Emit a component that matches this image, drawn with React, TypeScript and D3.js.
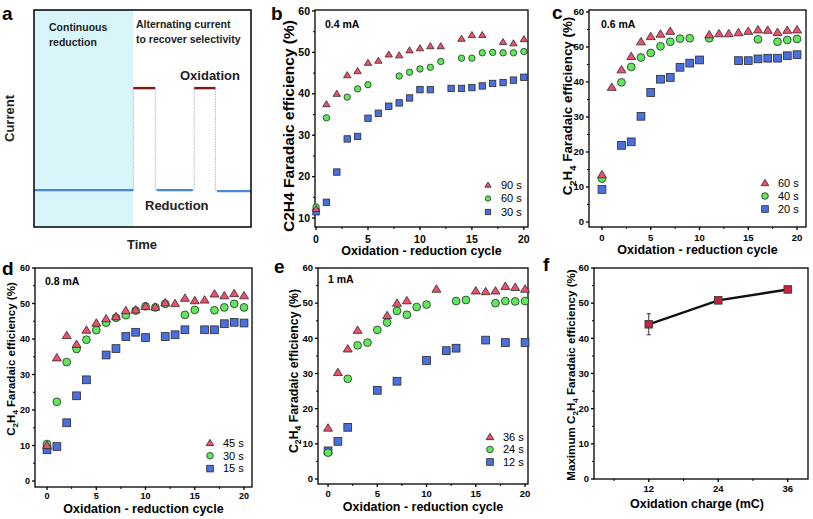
import React from "react";
import * as d3 from "d3";

// ---------- DATA ----------
// Panel b (0.4 mA)
const bCyc90 = [0, 1, 2, 3, 4, 5, 6, 7, 8, 9, 10, 11, 12, 14, 15, 16, 18, 19, 20];
const bVal90 = [12.2, 37.5, 40, 44.5, 45.5, 47.5, 48, 49.5, 49.3, 50.5, 51, 51.5, 51.5, 53.3, 54.2, 54.2, 52.5, 52.2, 53.2];
const bCyc60 = [0, 1, 3, 4, 5, 8, 9, 10, 11, 12, 14, 15, 16, 17, 18, 19, 20];
const bVal60 = [12.7, 34.2, 39.2, 41.2, 42.2, 44.3, 45.2, 46, 46.4, 47.8, 48.6, 48.6, 49.9, 50, 49.9, 49.9, 50.2];
const bCyc30 = [0, 1, 2, 3, 4, 5, 6, 7, 8, 9, 10, 11, 13, 14, 15, 16, 17, 18, 19, 20];
const bVal30 = [11.5, 13.8, 21.1, 29.1, 29.7, 34.1, 35.3, 37, 37.8, 39, 41, 41, 41.3, 41.3, 41.5, 41.9, 42.5, 42.7, 43.3, 44];

// Panel c (0.6 mA)
const cCyc60 = [0, 1, 2, 3, 4, 5, 6, 7, 11, 12, 13, 14, 15, 16, 17, 18, 19, 20];
const cVal60 = [13.5, 38.5, 43.5, 47.3, 51.5, 53, 53.7, 54.5, 53.5, 53.8, 53.8, 54.1, 54.5, 54.9, 54.8, 54.2, 54.8, 54.9];
const cCyc40 = [0, 2, 3, 4, 5, 6, 7, 8, 9, 11, 16, 18, 19, 20];
const cVal40 = [12.4, 39.9, 44.3, 47, 48.3, 50.2, 51.5, 52.4, 52.5, 52.5, 52.2, 51.5, 52, 52.3];
const cCyc20 = [0, 2, 3, 4, 5, 6, 7, 8, 9, 10, 14, 15, 16, 17, 18, 19, 20];
const cVal20 = [9.3, 21.9, 22.9, 30.2, 37, 40.8, 41.3, 44.2, 45.4, 46.3, 46.1, 46.1, 46.6, 46.8, 46.8, 47.5, 47.8];

// Panel d (0.8 mA)
const dCyc45 = [0, 1, 2, 3, 4, 5, 6, 7, 8, 9, 10, 11, 12, 13, 14, 15, 16, 17, 18, 19, 20];
const dVal45 = [10, 34.7, 41, 38.5, 42.5, 44.5, 45.7, 46.3, 48, 48.2, 49.2, 49, 50.2, 50, 51.5, 50.8, 51, 52.7, 52.2, 52.8, 52.2];
const dCyc30 = [0, 1, 2, 3, 4, 5, 6, 7, 8, 9, 10, 11, 12, 14, 15, 17, 18, 19, 20];
const dVal30 = [10.4, 22.3, 33.5, 37.2, 39.8, 42.5, 44.6, 46, 46.7, 48, 49.2, 48.9, 49.9, 46.8, 48.2, 48.1, 48.9, 49.9, 48.9];
const dCyc15 = [0, 1, 2, 3, 4, 6, 7, 8, 9, 10, 12, 13, 14, 16, 17, 18, 19, 20];
const dVal15 = [8.8, 9.7, 16.4, 24, 28.5, 35.5, 37.3, 40.7, 41.9, 40.4, 40.7, 41.2, 42.6, 42.6, 42.6, 44.3, 44.7, 44.5];

// Panel e (1 mA)
const eCyc36 = [0, 1, 2, 3, 6, 7, 8, 11, 15, 16, 17, 18, 19, 20];
const eVal36 = [14.5, 30.3, 37, 42.3, 46.5, 50, 50.7, 54, 53.5, 53.3, 53.5, 54.8, 54.5, 54];
const eCyc24 = [0, 2, 3, 4, 5, 6, 7, 8, 9, 10, 13, 14, 17, 18, 19, 20];
const eVal24 = [7.5, 28.5, 38, 38.8, 42.4, 44.5, 47.8, 46.7, 48.9, 49.6, 50.6, 50.9, 50, 50.6, 50.5, 50.6];
const eCyc12 = [0, 1, 2, 5, 7, 10, 12, 13, 16, 18, 20];
const eVal12 = [8, 10.7, 14.7, 25.2, 27.8, 33.7, 36.5, 37.2, 39.5, 38.8, 38.8];

// Panel f
const fCharge = [12, 24, 36];
const fMax = [44, 50.8, 53.9];
const fErr = [3, 0.5, 0.6];

const cycleTicks = [0, 5, 10, 15, 20];
const feTicks = [0, 10, 20, 30, 40, 50, 60];
const chargeTicks = [12, 24, 36];
const chargeMinor = [6, 18, 30];

// ---------- STYLE ----------
const FONT = "'Liberation Sans', Arial, sans-serif";
const TRI = "#f0506e";
const CIR = "#5ee85a";
const SQR = "#4a6fe0";
const EDGE = "#2a2a2a";

type Series = { cyc: number[]; val: number[]; shape: "tri" | "cir" | "sqr"; label: string };

function Marker({ shape, x, y, s }: { shape: string; x: number; y: number; s: number }) {
  if (shape === "tri") {
    return (
      <path
        d={`M${x},${y - s * 1.1} L${x + s * 1.15},${y + s * 0.8} L${x - s * 1.15},${y + s * 0.8} Z`}
        fill={TRI}
        stroke={EDGE}
        strokeWidth={0.8}
      />
    );
  }
  if (shape === "cir") return <circle cx={x} cy={y} r={s} fill={CIR} stroke={EDGE} strokeWidth={0.8} />;
  return <rect x={x - s} y={y - s} width={2 * s} height={2 * s} fill={SQR} stroke={EDGE} strokeWidth={0.8} />;
}

function SubC2H4({ fs }: { fs: number }) {
  const d = fs * 0.28;
  const sf = fs * 0.7;
  return (
    <>
      C<tspan dy={d} fontSize={sf}>2</tspan>
      <tspan dy={-d}>H</tspan>
      <tspan dy={d} fontSize={sf}>4</tspan>
      <tspan dy={-d}>{" "}</tspan>
    </>
  );
}

function YLabel({ x, y, sub, fs }: { x: number; y: number; sub: boolean; fs: number }) {
  return (
    <text
      transform={`translate(${x},${y}) rotate(-90)`}
      textAnchor="middle"
      fontFamily={FONT}
      fontWeight="bold"
      fontSize={fs}
    >
      {sub ? (
        <>
          <SubC2H4 fs={fs} />
          <tspan>Faradaic efficiency (%)</tspan>
        </>
      ) : (
        "C2H4 Faradaic efficiency (%)"
      )}
    </text>
  );
}

type PanelProps = {
  l: number; r: number; t: number; b: number;
  xd: [number, number]; yd: [number, number];
  yTicks: number[];
  series: Series[];
  letter: string; letterX: number; letterY: number;
  current: string; curX: number; curY: number;
  ylabX: number; ylabY: number; ylabFs: number; ylabSub: boolean;
  xlabY: number; tickDy: number; tickFs: number;
  legX: number; legY: number; legGap: number;
  ms: number;
};

function ScatterPanel(p: PanelProps) {
  const x = d3.scaleLinear().domain(p.xd).range([p.l, p.r]);
  const y = d3.scaleLinear().domain(p.yd).range([p.b, p.t]);
  const yT = p.yTicks.filter((v) => v >= p.yd[0] - 0.01 && v <= p.yd[1] + 0.01);
  const xMinor = d3.range(2.5, 20, 5);
  const yMinor = yT.slice(0, -1).map((v) => v + 5).filter((v) => v < p.yd[1]);
  return (
    <g>
      <rect x={p.l} y={p.t} width={p.r - p.l} height={p.b - p.t} fill="none" stroke="#000" strokeWidth={1.3} />
      {yT.map((v) => (
        <g key={"y" + v}>
          <line x1={p.l - 3} x2={p.l} y1={y(v)} y2={y(v)} stroke="#000" strokeWidth={1.3} />
          <text x={p.l - 5} y={y(v)} dy="0.35em" textAnchor="end" fontFamily={FONT} fontWeight="bold" fontSize={p.tickFs}>
            {v}
          </text>
        </g>
      ))}
      {yMinor.map((v) => (
        <line key={"ym" + v} x1={p.l - 2} x2={p.l} y1={y(v)} y2={y(v)} stroke="#000" strokeWidth={1} />
      ))}
      {cycleTicks.map((v) => (
        <g key={"x" + v}>
          <line x1={x(v)} x2={x(v)} y1={p.b} y2={p.b + 3} stroke="#000" strokeWidth={1.3} />
          <text x={x(v)} y={p.b + p.tickDy} textAnchor="middle" fontFamily={FONT} fontWeight="bold" fontSize={p.tickFs}>
            {v}
          </text>
        </g>
      ))}
      {xMinor.map((v) => (
        <line key={"xm" + v} x1={x(v)} x2={x(v)} y1={p.b} y2={p.b + 2} stroke="#000" strokeWidth={1} />
      ))}
      {[...p.series].reverse().map((s) =>
        s.cyc.map((c, i) => <Marker key={s.label + c} shape={s.shape} x={x(c)} y={y(s.val[i])} s={p.ms} />)
      )}
      {p.series.map((s, i) => (
        <g key={"leg" + s.label}>
          <Marker shape={s.shape} x={p.legX} y={p.legY + i * p.legGap} s={p.ms * 0.85} />
          <text x={p.legX + 13} y={p.legY + i * p.legGap} dy="0.35em" fontFamily={FONT} fontSize={11}>
            {s.label}
          </text>
        </g>
      ))}
      <text x={p.curX} y={p.curY} fontFamily={FONT} fontWeight="bold" fontSize={10.5}>
        {p.current}
      </text>
      <text x={p.letterX} y={p.letterY} fontFamily={FONT} fontWeight="bold" fontSize={19}>
        {p.letter}
      </text>
      <YLabel x={p.ylabX} y={p.ylabY} sub={p.ylabSub} fs={p.ylabFs} />
      <text x={(p.l + p.r) / 2} y={p.xlabY} textAnchor="middle" fontFamily={FONT} fontWeight="bold" fontSize={12.5}>
        Oxidation - reduction cycle
      </text>
    </g>
  );
}

function PanelA() {
  const L = 34, R = 251, T = 10, B = 227;
  const x = d3.scaleLinear().domain([0, 100]).range([L, R]);
  const y = d3.scaleLinear().domain([0, 100]).range([B, T]);
  const base = 17;
  const top = 64;
  const redSegs = [[45.8, 55.9], [73.8, 83.6]];
  const blueSegs = [[0, 45.8], [56.5, 73.2], [84.3, 100]];
  return (
    <g>
      <rect x={x(0)} y={T} width={x(45.8) - x(0)} height={B - T} fill="#d8f6fa" />
      {redSegs.map(([a, b], i) => (
        <g key={"r" + i}>
          <line x1={x(a)} x2={x(a)} y1={y(base)} y2={y(top)} stroke="#9aa6b0" strokeWidth={0.8} strokeDasharray="1.5,1" />
          <line x1={x(b)} x2={x(b)} y1={y(base)} y2={y(top)} stroke="#9aa6b0" strokeWidth={0.8} strokeDasharray="1.5,1" />
          <line x1={x(a)} x2={x(b)} y1={y(top)} y2={y(top)} stroke="#7a1c14" strokeWidth={2.4} />
        </g>
      ))}
      {blueSegs.map(([a, b], i) => (
        <line key={"b" + i} x1={x(a)} x2={x(b)} y1={y(base) + (i === 2 ? 1 : 0)} y2={y(base) + (i === 2 ? 1 : 0)} stroke="#4a86e0" strokeWidth={2.4} />
      ))}
      <rect x={L} y={T} width={R - L} height={B - T} fill="none" stroke="#000" strokeWidth={1.5} />
      <text x={49} y={31} fontFamily={FONT} fontWeight="bold" fontSize={10.5} fill="#222">Continuous</text>
      <text x={49} y={46} fontFamily={FONT} fontWeight="bold" fontSize={10.5} fill="#222">reduction</text>
      <text x={136} y={28} fontFamily={FONT} fontWeight="bold" fontSize={10.5} fill="#222">Alternating current</text>
      <text x={136} y={43} fontFamily={FONT} fontWeight="bold" fontSize={10.5} fill="#222">to recover selectivity</text>
      <text x={180} y={80} fontFamily={FONT} fontWeight="bold" fontSize={13} fill="#222">Oxidation</text>
      <text x={145} y={210} fontFamily={FONT} fontWeight="bold" fontSize={13} fill="#222">Reduction</text>
      <text transform={`translate(14,${(T + B) / 2}) rotate(-90)`} textAnchor="middle" fontFamily={FONT} fontWeight="bold" fontSize={13} fill="#222">Current</text>
      <text x={142} y={249} textAnchor="middle" fontFamily={FONT} fontWeight="bold" fontSize={13} fill="#222">Time</text>
      <text x={2} y={20} fontFamily={FONT} fontWeight="bold" fontSize={19}>a</text>
    </g>
  );
}

function PanelF() {
  const L = 594, R = 808, T = 268, B = 479;
  const x = d3.scaleLinear().domain([2.54, 39.5]).range([L, R]);
  const y = d3.scaleLinear().domain([0, 60]).range([B, T]);
  const line = d3.line<number>().x((_, i) => x(fCharge[i])).y((v) => y(v));
  const yMinor = feTicks.slice(0, -1).map((v) => v + 5);
  return (
    <g>
      <rect x={L} y={T} width={R - L} height={B - T} fill="none" stroke="#000" strokeWidth={1.3} />
      {feTicks.map((v) => (
        <g key={"fy" + v}>
          <line x1={L - 3} x2={L} y1={y(v)} y2={y(v)} stroke="#000" strokeWidth={1.3} />
          <text x={L - 5} y={y(v)} dy="0.35em" textAnchor="end" fontFamily={FONT} fontWeight="bold" fontSize={9.5}>{v}</text>
        </g>
      ))}
      {yMinor.map((v) => (
        <line key={"fym" + v} x1={L - 2} x2={L} y1={y(v)} y2={y(v)} stroke="#000" strokeWidth={1} />
      ))}
      {chargeTicks.map((v) => (
        <g key={"fx" + v}>
          <line x1={x(v)} x2={x(v)} y1={B} y2={B + 3} stroke="#000" strokeWidth={1.3} />
          <text x={x(v)} y={B + 13} textAnchor="middle" fontFamily={FONT} fontWeight="bold" fontSize={9.5}>{v}</text>
        </g>
      ))}
      {chargeMinor.map((v) => (
        <line key={"fxm" + v} x1={x(v)} x2={x(v)} y1={B} y2={B + 2} stroke="#000" strokeWidth={1} />
      ))}
      <path d={line(fMax) || ""} fill="none" stroke="#111" strokeWidth={2.4} />
      {fCharge.map((c, i) => (
        <g key={"fe" + c}>
          <line x1={x(c)} x2={x(c)} y1={y(fMax[i] - fErr[i])} y2={y(fMax[i] + fErr[i])} stroke="#333" strokeWidth={1} />
          <line x1={x(c) - 2} x2={x(c) + 2} y1={y(fMax[i] - fErr[i])} y2={y(fMax[i] - fErr[i])} stroke="#333" strokeWidth={1} />
          <line x1={x(c) - 2} x2={x(c) + 2} y1={y(fMax[i] + fErr[i])} y2={y(fMax[i] + fErr[i])} stroke="#333" strokeWidth={1} />
          <rect x={x(c) - 3.8} y={y(fMax[i]) - 3.8} width={7.6} height={7.6} fill="#c8203e" stroke="#333" strokeWidth={0.8} />
        </g>
      ))}
      <text transform={`translate(575,375) rotate(-90)`} textAnchor="middle" fontFamily={FONT} fontWeight="bold" fontSize={11.6}>
        <tspan>Maximum </tspan>
        <SubC2H4 fs={11.6} />
        <tspan>Faradaic efficiency (%)</tspan>
      </text>
      <text x={697} y={508} textAnchor="middle" fontFamily={FONT} fontWeight="bold" fontSize={12.5}>Oxidation charge (mC)</text>
      <text x={543} y={271} fontFamily={FONT} fontWeight="bold" fontSize={19}>f</text>
    </g>
  );
}

export default function App() {
  return (
    <svg width={813} height={519} style={{ position: "absolute", left: 0, top: 0, background: "#fff" }}>
      <rect width={813} height={519} fill="#fff" />
      <PanelA />
      <ScatterPanel
        l={315} r={528} t={10} b={227}
        xd={[-0.1, 20.4]} yd={[7.83, 60.24]} yTicks={[10, 20, 30, 40, 50, 60]}
        series={[
          { cyc: bCyc90, val: bVal90, shape: "tri", label: "90 s" },
          { cyc: bCyc60, val: bVal60, shape: "cir", label: "60 s" },
          { cyc: bCyc30, val: bVal30, shape: "sqr", label: "30 s" },
        ]}
        letter="b" letterX={271} letterY={20} current="0.4 mA" curX={325} curY={28}
        ylabX={294} ylabY={126} ylabFs={15.5} ylabSub={false}
        xlabY={255} tickDy={15.5} tickFs={10.5}
        legX={488} legY={185} legGap={13.5} ms={3.2}
      />
      <ScatterPanel
        l={589} r={806} t={10} b={227}
        xd={[-1.33, 20.92]} yd={[-1.43, 60.57]} yTicks={feTicks}
        series={[
          { cyc: cCyc60, val: cVal60, shape: "tri", label: "60 s" },
          { cyc: cCyc40, val: cVal40, shape: "cir", label: "40 s" },
          { cyc: cCyc20, val: cVal20, shape: "sqr", label: "20 s" },
        ]}
        letter="c" letterX={552} letterY={19} current="0.6 mA" curX={601} curY={28}
        ylabX={572} ylabY={106} ylabFs={13.4} ylabSub={true}
        xlabY={254} tickDy={13.5} tickFs={9.5}
        legX={765} legY={183} legGap={13} ms={3.9}
      />
      <ScatterPanel
        l={35} r={252} t={268} b={487}
        xd={[-1.22, 20.81]} yd={[-1.69, 60]} yTicks={feTicks}
        series={[
          { cyc: dCyc45, val: dVal45, shape: "tri", label: "45 s" },
          { cyc: dCyc30, val: dVal30, shape: "cir", label: "30 s" },
          { cyc: dCyc15, val: dVal15, shape: "sqr", label: "15 s" },
        ]}
        letter="d" letterX={2} letterY={275} current="0.8 mA" curX={45} curY={285}
        ylabX={15} ylabY={359} ylabFs={11.5} ylabSub={true}
        xlabY={513} tickDy={11.5} tickFs={9}
        legX={210} legY={443} legGap={12.8} ms={3.9}
      />
      <ScatterPanel
        l={318} r={528} t={268} b={484}
        xd={[-1.02, 20.3]} yd={[-1.42, 60]} yTicks={feTicks}
        series={[
          { cyc: eCyc36, val: eVal36, shape: "tri", label: "36 s" },
          { cyc: eCyc24, val: eVal24, shape: "cir", label: "24 s" },
          { cyc: eCyc12, val: eVal12, shape: "sqr", label: "12 s" },
        ]}
        letter="e" letterX={274} letterY={273} current="1 mA" curX={328} curY={283}
        ylabX={298} ylabY={371} ylabFs={12.3} ylabSub={true}
        xlabY={511} tickDy={13} tickFs={9.5}
        legX={490} legY={437} legGap={12.5} ms={3.9}
      />
      <PanelF />
    </svg>
  );
}
